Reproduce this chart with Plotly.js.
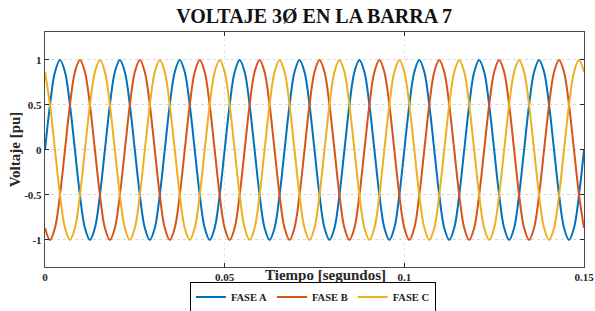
<!DOCTYPE html>
<html>
<head>
<meta charset="utf-8">
<script src="https://cdn.plot.ly/plotly-3.0.1.min.js"></script>
<style>html,body{margin:0;padding:0;background:#fff;}#chart{width:595px;height:311px;}</style>
</head>
<body>
<div id="chart"></div>
<script>
// Time samples [s] (every 30 electrical degrees at 60 Hz)
const tiempo = [0,0.00139,0.00278,0.00417,0.00556,0.00694,0.00833,0.00972,0.01111,0.0125,0.01389,0.01528,
0.01667,0.01806,0.01944,0.02083,0.02222,0.02361,0.025,0.02639,0.02778,0.02917,0.03056,0.03194,
0.03333,0.03472,0.03611,0.0375,0.03889,0.04028,0.04167,0.04306,0.04444,0.04583,0.04722,0.04861,
0.05,0.05139,0.05278,0.05417,0.05556,0.05694,0.05833,0.05972,0.06111,0.0625,0.06389,0.06528,
0.06667,0.06806,0.06944,0.07083,0.07222,0.07361,0.075,0.07639,0.07778,0.07917,0.08056,0.08194,
0.08333,0.08472,0.08611,0.0875,0.08889,0.09028,0.09167,0.09306,0.09444,0.09583,0.09722,0.09861,
0.1,0.10139,0.10278,0.10417,0.10556,0.10694,0.10833,0.10972,0.11111,0.1125,0.11389,0.11528,
0.11667,0.11806,0.11944,0.12083,0.12222,0.12361,0.125,0.12639,0.12778,0.12917,0.13056,0.13194,
0.13333,0.13472,0.13611,0.1375,0.13889,0.14028,0.14167,0.14306,0.14444,0.14583,0.14722,0.14861,
0.15];

const faseA = [0,0.5,0.866,1,0.866,0.5,0,-0.5,-0.866,-1,-0.866,-0.5,
0,0.5,0.866,1,0.866,0.5,0,-0.5,-0.866,-1,-0.866,-0.5,
0,0.5,0.866,1,0.866,0.5,0,-0.5,-0.866,-1,-0.866,-0.5,
0,0.5,0.866,1,0.866,0.5,0,-0.5,-0.866,-1,-0.866,-0.5,
0,0.5,0.866,1,0.866,0.5,0,-0.5,-0.866,-1,-0.866,-0.5,
0,0.5,0.866,1,0.866,0.5,0,-0.5,-0.866,-1,-0.866,-0.5,
0,0.5,0.866,1,0.866,0.5,0,-0.5,-0.866,-1,-0.866,-0.5,
0,0.5,0.866,1,0.866,0.5,0,-0.5,-0.866,-1,-0.866,-0.5,
0,0.5,0.866,1,0.866,0.5,0,-0.5,-0.866,-1,-0.866,-0.5,
0];

const faseB = [-0.866,-1,-0.866,-0.5,0,0.5,0.866,1,0.866,0.5,0,-0.5,
-0.866,-1,-0.866,-0.5,0,0.5,0.866,1,0.866,0.5,0,-0.5,
-0.866,-1,-0.866,-0.5,0,0.5,0.866,1,0.866,0.5,0,-0.5,
-0.866,-1,-0.866,-0.5,0,0.5,0.866,1,0.866,0.5,0,-0.5,
-0.866,-1,-0.866,-0.5,0,0.5,0.866,1,0.866,0.5,0,-0.5,
-0.866,-1,-0.866,-0.5,0,0.5,0.866,1,0.866,0.5,0,-0.5,
-0.866,-1,-0.866,-0.5,0,0.5,0.866,1,0.866,0.5,0,-0.5,
-0.866,-1,-0.866,-0.5,0,0.5,0.866,1,0.866,0.5,0,-0.5,
-0.866,-1,-0.866,-0.5,0,0.5,0.866,1,0.866,0.5,0,-0.5,
-0.866];

const faseC = [0.866,0.5,0,-0.5,-0.866,-1,-0.866,-0.5,0,0.5,0.866,1,
0.866,0.5,0,-0.5,-0.866,-1,-0.866,-0.5,0,0.5,0.866,1,
0.866,0.5,0,-0.5,-0.866,-1,-0.866,-0.5,0,0.5,0.866,1,
0.866,0.5,0,-0.5,-0.866,-1,-0.866,-0.5,0,0.5,0.866,1,
0.866,0.5,0,-0.5,-0.866,-1,-0.866,-0.5,0,0.5,0.866,1,
0.866,0.5,0,-0.5,-0.866,-1,-0.866,-0.5,0,0.5,0.866,1,
0.866,0.5,0,-0.5,-0.866,-1,-0.866,-0.5,0,0.5,0.866,1,
0.866,0.5,0,-0.5,-0.866,-1,-0.866,-0.5,0,0.5,0.866,1,
0.866,0.5,0,-0.5,-0.866,-1,-0.866,-0.5,0,0.5,0.866,1,
0.866];

const nombres = ['FASE A', 'FASE B', 'FASE C'];
const xTicks = [0, 0.05, 0.1, 0.15];
const xTickText = ['0', '0.05', '0.1', '0.15'];
const yTicks = [-1, -0.5, 0, 0.5, 1];
const yTickText = ['-1', '-0.5', '0', '0.5', '1'];

const colores = ['#0072BD', '#D95319', '#EDB120'];
const series = [faseA, faseB, faseC];
const serif = 'Liberation Serif, Times New Roman, serif';

const traces = series.map((y, i) => ({
  x: tiempo, y: y, type: 'scatter', mode: 'lines', name: nombres[i],
  line: {color: colores[i], width: 2, shape: 'spline', smoothing: 1}
}));

const layout = {
  width: 595, height: 311,
  margin: {l: 45, r: 11, t: 32, b: 44, autoexpand: false},
  paper_bgcolor: '#ffffff', plot_bgcolor: '#ffffff',
  font: {family: serif, color: '#262626'},
  title: {text: '<b>VOLTAJE 3Ø EN LA BARRA 7</b>', font: {family: serif, size: 20, color: '#111'},
          x: 0.528, xanchor: 'center', y: 0.95, yanchor: 'middle'},
  xaxis: {
    range: [0, 0.15], tickvals: xTicks, ticktext: xTickText,
    ticks: 'inside', ticklen: 4, tickcolor: '#262626', mirror: 'ticks',
    showline: true, linecolor: '#4a4a4a', linewidth: 1.2,
    showgrid: true, gridcolor: '#e6e6e6', griddash: 'dot', gridwidth: 1,
    zeroline: false, tickfont: {family: serif, size: 11, color: '#262626', weight: 'bold'}
  },
  yaxis: {
    range: [-1.3, 1.31], tickvals: yTicks, ticktext: yTickText,
    ticks: 'inside', ticklen: 4, tickcolor: '#262626', mirror: 'ticks',
    showline: true, linecolor: '#4a4a4a', linewidth: 1.2,
    showgrid: true, gridcolor: '#d9d9d9', griddash: 'dot', gridwidth: 1,
    zeroline: false, tickfont: {family: serif, size: 11, color: '#262626', weight: 'bold'},
    title: {text: '<b>Voltaje [pu]</b>', font: {family: serif, size: 15, color: '#262626'}, standoff: 0}
  },
  annotations: [{
    text: '<b>Tiempo [segundos]</b>', xref: 'paper', yref: 'paper', x: 0.52, y: -0.036,
    xanchor: 'center', yanchor: 'middle', showarrow: false,
    font: {family: serif, size: 15, color: '#262626'}
  }],
  legend: {
    orientation: 'h', x: 0.497, xanchor: 'center', y: -0.128, yanchor: 'middle',
    bordercolor: '#000', borderwidth: 1, bgcolor: '#fff',
    font: {family: serif, size: 10.5, color: '#222', weight: 'bold'},
    itemwidth: 30, tracegroupgap: 0
  },
  showlegend: true
};

Plotly.newPlot('chart', traces, layout, {displayModeBar: false, staticPlot: true});
</script>
</body>
</html>
